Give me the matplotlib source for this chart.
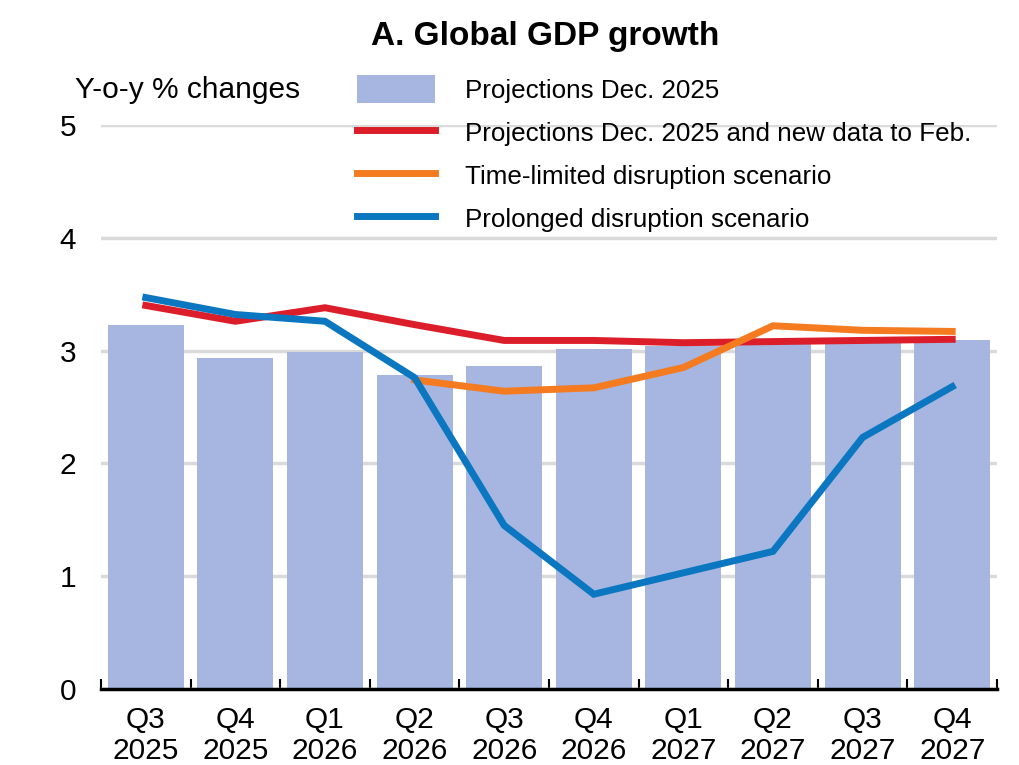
import matplotlib
matplotlib.use("Agg")
import matplotlib.pyplot as plt
from matplotlib.patches import Patch
from matplotlib.lines import Line2D
import numpy as np

QUARTERS = ["Q3\n2025", "Q4\n2025", "Q1\n2026", "Q2\n2026", "Q3\n2026",
            "Q4\n2026", "Q1\n2027", "Q2\n2027", "Q3\n2027", "Q4\n2027"]
DEC_2025 = [3.23, 2.93, 2.99, 2.78, 2.86, 3.01, 3.04, 3.07, 3.07, 3.09]
NEW_DATA = [3.40, 3.26, 3.38, 3.23, 3.09, 3.09, 3.07, 3.08, 3.09, 3.10]
TIME_LIMITED = [None, None, None, 2.74, 2.64, 2.67, 2.85, 3.22, 3.18, 3.17]
PROLONGED = [3.47, 3.32, 3.26, 2.76, 1.45, 0.84, 1.03, 1.22, 2.23, 2.68]

BAR_COLOR = "#A6B6E0"
RED = "#DC1E2A"
ORANGE = "#F47B20"
BLUE = "#0B77C0"

plt.rcParams["font.family"] = ["Liberation Sans", "DejaVu Sans"]
FS = 21.5      # axis text
LEG_FS = 18.7  # legend text

fig = plt.figure(figsize=(10.2, 7.65), dpi=100)
ax = fig.add_axes([101 / 1020, 1 - 689 / 765, 896 / 1020, 564 / 765])

x = np.arange(len(QUARTERS))
ax.bar(x, DEC_2025, width=0.85, color=BAR_COLOR, zorder=2)
ax.plot(x, NEW_DATA, color=RED, lw=5, zorder=3, solid_joinstyle="miter")
tl = np.array([np.nan if v is None else v for v in TIME_LIMITED])
ax.plot(x, tl, color=ORANGE, lw=5, zorder=4, solid_joinstyle="miter")
ax.plot(x, PROLONGED, color=BLUE, lw=5, zorder=5, solid_joinstyle="miter")

ax.set_xlim(-0.5, len(QUARTERS) - 0.5)
ax.set_ylim(0, 5)
ax.set_yticks([0, 1, 2, 3, 4, 5])
ax.yaxis.grid(True, color="#DADADA", lw=2.5, zorder=0)
ax.set_axisbelow(True)

for side in ["top", "right", "left"]:
    ax.spines[side].set_visible(False)
ax.spines["bottom"].set_color("black")
ax.spines["bottom"].set_linewidth(2.5)
ax.spines["bottom"].set_zorder(6)

ax.set_xticks(x)
ax.set_xticklabels(QUARTERS, fontsize=FS, linespacing=1.15)
ax.set_xticks(np.arange(-0.5, len(QUARTERS)), minor=True)
ax.tick_params(axis="x", which="major", length=0, pad=12)
ax.tick_params(axis="x", which="minor", direction="in", length=7, width=1.5, color="black")
ax.tick_params(axis="y", length=0, labelsize=FS, pad=18)

fig.text(545 / 1020, 1 - 37 / 765, "A. Global GDP growth", fontsize=24,
         fontweight="bold", ha="center", va="center")
fig.text(75 / 1020, 1 - 90 / 765, "Y-o-y % changes", fontsize=FS,
         ha="left", va="center")

handles = [
    Patch(facecolor=BAR_COLOR, edgecolor="none"),
    Line2D([0], [0], color=RED, lw=5),
    Line2D([0], [0], color=ORANGE, lw=5),
    Line2D([0], [0], color=BLUE, lw=5),
]
labels = [
    "Projections Dec. 2025",
    "Projections Dec. 2025 and new data to Feb.",
    "Time-limited disruption scenario",
    "Prolonged disruption scenario",
]
fig.legend(handles, labels, loc="upper left",
           bbox_to_anchor=(357 / 1020, 1 - 75 / 765),
           frameon=False, fontsize=LEG_FS, borderpad=0, borderaxespad=0,
           handlelength=3.0, handleheight=1.3, handletextpad=1.15,
           labelspacing=0.57)

fig.savefig("out.png", dpi=100)
